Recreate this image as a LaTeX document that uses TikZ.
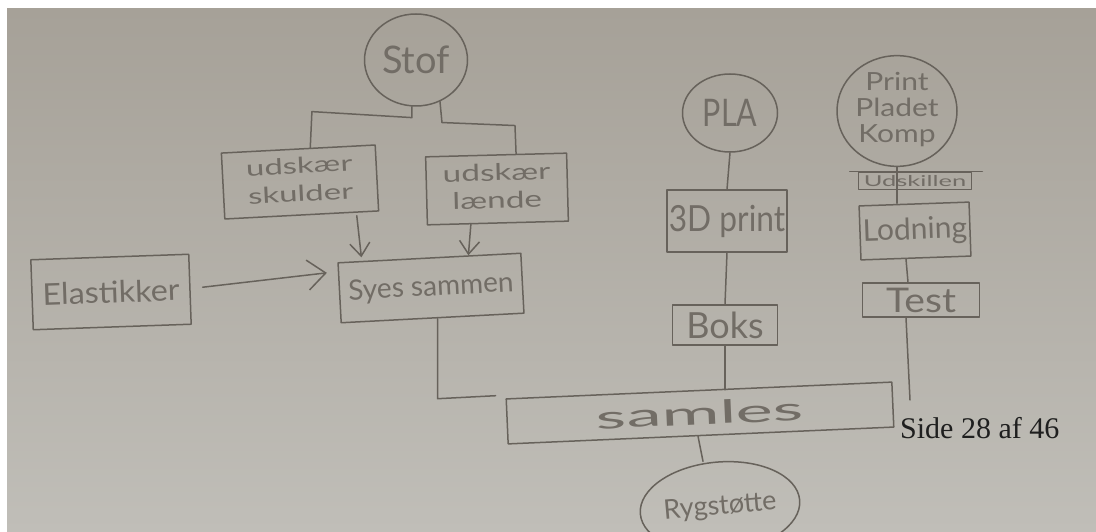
\documentclass[tikz,border=0pt]{standalone}
\usepackage{fontspec}
\setmainfont{Lato}
\newfontfamily\printfont{Liberation Serif}
\usetikzlibrary{shapes.geometric,arrows.meta}

\definecolor{paperTop}{HTML}{A6A198}
\definecolor{paperBot}{HTML}{C0BEB8}
\definecolor{pencil}{HTML}{67625B}
\definecolor{pencilText}{HTML}{726D66}

% centred stack of lines for multi-line labels
\newcommand\lines[1]{\begin{tabular}{@{}c@{}}#1\end{tabular}}

\begin{document}
\begin{tikzpicture}[x=1pt,y=-1pt,
  pencil line/.style={draw=pencil, line width=1.5pt, line cap=round, line join=round},
  box/.style={pencil line, rectangle, inner sep=0pt, text=pencilText},
  bubble/.style={pencil line, ellipse, inner sep=0pt, text=pencilText},
  link/.style={pencil line},
  flow/.style={pencil line, -{Straight Barb[length=13pt,width=20pt,line width=1.5pt]}},
  bigflow/.style={pencil line, -{Straight Barb[length=18pt,width=30pt,line width=1.5pt]}},
]
\useasboundingbox (0,0) rectangle (1096,532);
% sheet of paper
\fill[white] (0,0) rectangle (1096,532);
\shade[top color=paperTop, bottom color=paperBot] (7,9) rectangle (1096,532);

% materials and processes
\node[bubble, minimum width=103pt, minimum height=92pt, font=\fontsize{38}{38}\selectfont]
  (stof) at (416,60) {Stof};
\node[box, minimum width=154pt, minimum height=66pt, rotate=3, font=\fontsize{22}{28}\selectfont]
  (skulder) at (300,182) {\scalebox{1.5}[1]{\lines{udskær\\skulder}}};
\node[box, minimum width=141pt, minimum height=68pt, rotate=1.5, font=\fontsize{23}{28}\selectfont]
  (laende) at (497,189) {\scalebox{1.45}[1]{\lines{udskær\\lænde}}};
\node[box, minimum width=158pt, minimum height=70pt, rotate=2, font=\fontsize{30}{30}\selectfont]
  (elastik) at (111,292) {\scalebox{1.08}[1]{Elastikker}};
\node[box, minimum width=183pt, minimum height=60pt, rotate=3, font=\fontsize{28}{28}\selectfont]
  (syes) at (431,288) {Syes sammen};

\node[bubble, minimum width=95pt, minimum height=78pt, font=\fontsize{38}{38}\selectfont]
  (pla) at (730,113) {\scalebox{0.8}[1]{PLA}};
\node[box, minimum width=120pt, minimum height=62pt, font=\fontsize{36}{36}\selectfont]
  (print3d) at (727,221) {\scalebox{0.88}[1]{3D print}};
\node[box, minimum width=105pt, minimum height=40pt, font=\fontsize{36}{36}\selectfont]
  (boks) at (725,325) {Boks};

\node[bubble, minimum width=120pt, minimum height=108pt, font=\fontsize{25}{26}\selectfont]
  (pcb) at (897,111) {\scalebox{1.2}[1]{\lines{Print\\Pladet\\Komp}}};
\node[box, minimum width=113pt, minimum height=17pt, font=\fontsize{15}{15}\selectfont]
  (strip) at (915,181) {\scalebox{1.7}[1]{Udskillen}};
\node[box, minimum width=110pt, minimum height=54pt, rotate=2, font=\fontsize{30}{30}\selectfont]
  (lodning) at (915,231) {Lodning};
\node[box, minimum width=117pt, minimum height=34pt, font=\fontsize{34}{34}\selectfont]
  (test) at (921,300) {\scalebox{1.15}[1]{Test}};

\node[box, minimum width=386pt, minimum height=45pt, rotate=2.5, font=\fontsize{32}{32}\selectfont]
  (samles) at (700,413) {\scalebox{2.2}[1]{samles}};
\node[bubble, minimum width=144pt, minimum height=90pt, rotate=5, font=\fontsize{27}{27}\selectfont]
  (ryg) at (720,507) {Rygstøtte};

\node[anchor=base west, inner sep=0pt, text=black!88, font=\printfont\fontsize{30}{30}\selectfont]
  (page) at (900,438) {Side 28 af 46};

% stroke over the top of the strip
\draw[link] ([xshift=-8pt]strip.north west) -- ([xshift=10pt]strip.north east);

% connectors
\draw[link] (stof.265) -- ++(0,11) -- ++(-100,-6) -- ([xshift=12pt]skulder.north);
\draw[link] (stof.300) -- ++(2,21) -- ++(73,3) -- ([xshift=20pt]laende.north);
\draw[flow] ([xshift=55pt]skulder.south) -- ([xshift=-68pt]syes.north);
\draw[flow] ([xshift=-27pt]laende.south) -- ([xshift=39pt,yshift=2pt]syes.north);
\draw[bigflow] ([xshift=12pt,yshift=2pt]elastik.east) -- ([xshift=-12pt,yshift=20pt]syes.west);
\draw[link] ([xshift=5pt]syes.south) -- ++(0,80) -- ++(58,-3);

\draw[link] (pla.south) -- (print3d.north);
\draw[link] (print3d.south) -- (boks.north);
\draw[link] (boks.south) -- (boks.south |- samles.north);

\draw[link] (pcb.south) -- (pcb.south |- lodning.north);
\draw[link] ([xshift=-10pt]lodning.south) -- ([xshift=-13pt]test.north);
\coordinate (testend) at (910,400);
\draw[link] ([xshift=-15pt]test.south) -- (testend);

\draw[link] ([xshift=-3pt]samles.south) -- ([xshift=-13pt]ryg.north);
\end{tikzpicture}
\end{document}
